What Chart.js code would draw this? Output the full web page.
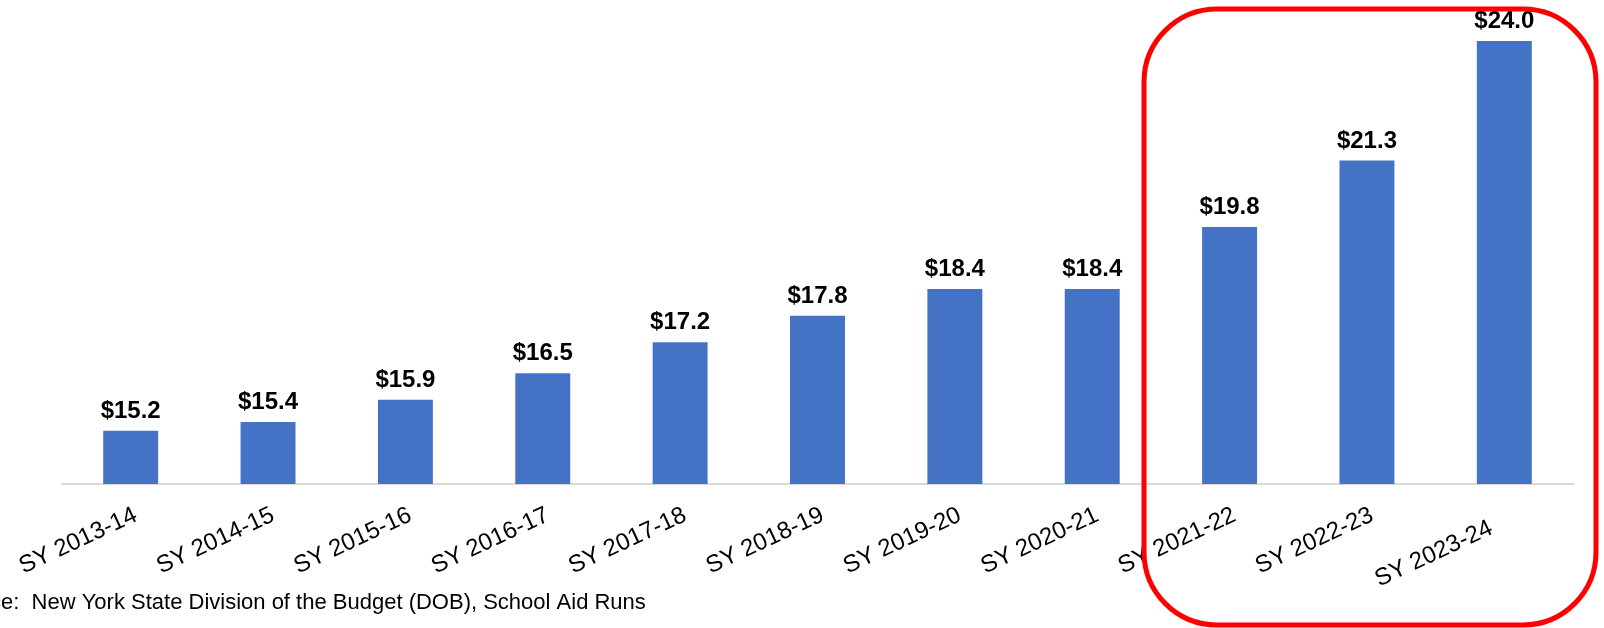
<!DOCTYPE html>
<html>
<head>
<meta charset="utf-8">
<script src="https://cdn.jsdelivr.net/npm/chart.js@4/dist/chart.umd.min.js"></script>
<style>
  html, body { margin: 0; padding: 0; background: #ffffff; }
  #wrap { width: 1604px; height: 628px; position: relative; }
</style>
</head>
<body>
<div id="wrap"><canvas id="c" width="1604" height="628"></canvas></div>
<script>
const categories = ['SY 2013-14', 'SY 2014-15', 'SY 2015-16', 'SY 2016-17', 'SY 2017-18', 'SY 2018-19', 'SY 2019-20', 'SY 2020-21', 'SY 2021-22', 'SY 2022-23', 'SY 2023-24'];
const aidValues = [15.2, 15.4, 15.9, 16.5, 17.2, 17.8, 18.4, 18.4, 19.8, 21.3, 24.0];
const valueLabels = ['$15.2', '$15.4', '$15.9', '$16.5', '$17.2', '$17.8', '$18.4', '$18.4', '$19.8', '$21.3', '$24.0'];
const sourceText = 'Source:  New York State Division of the Budget (DOB), School Aid Runs';

const FONT = "'Liberation Sans', Arial, sans-serif";

const valueLabelPlugin = {
  id: 'valueLabels',
  afterDatasetsDraw(chart) {
    const ctx = chart.ctx;
    const meta = chart.getDatasetMeta(0);
    ctx.save();
    ctx.font = "bold 24px " + FONT;
    ctx.fillStyle = '#000000';
    ctx.textAlign = 'center';
    ctx.textBaseline = 'alphabetic';
    meta.data.forEach((bar, i) => {
      ctx.fillText(valueLabels[i], bar.x, bar.y - 13);
    });
    ctx.restore();
  }
};

// the last category label sits a little lower-left in the original
const lastLabelShift = {
  id: 'lastLabelShift',
  beforeDraw(chart) {
    const scale = chart.scales.x;
    const items = scale.getLabelItems();
    const last = items[items.length - 1];
    if (last && !last._shifted) {
      last.options.translation = [last.options.translation[0] - 18, last.options.translation[1] + 13];
      last._shifted = true;
    }
  }
};

const decorPlugin = {
  id: 'decor',
  afterDraw(chart) {
    const ctx = chart.ctx;
    ctx.save();
    // source note (left part cut off as in the original)
    ctx.font = "22px " + FONT;
    ctx.fillStyle = '#000000';
    ctx.textBaseline = 'alphabetic';
    ctx.textAlign = 'left';
    const cut = ctx.measureText('Sourc').width;
    ctx.fillText(sourceText, -cut + 1, 609);
    // red highlight rounded rectangle
    ctx.strokeStyle = '#ff0000';
    ctx.lineWidth = 5;
    ctx.beginPath();
    ctx.roundRect(1144, 9, 452, 616, 73);
    ctx.stroke();
    ctx.restore();
  }
};

new Chart(document.getElementById('c'), {
  type: 'bar',
  data: {
    labels: categories,
    datasets: [{
      data: aidValues,
      backgroundColor: '#4472C4',
      borderWidth: 0,
      barPercentage: 0.4,
      categoryPercentage: 1.0
    }]
  },
  options: {
    responsive: false,
    animation: false,
    devicePixelRatio: 1,
    layout: { padding: { top: 41, left: 62, right: 31, bottom: 0 } },
    plugins: { legend: { display: false }, tooltip: { enabled: false } },
    scales: {
      x: {
        grid: { display: false, drawTicks: false },
        border: { display: true, color: '#d9d9d9', width: 2 },
        ticks: {
          color: '#000000',
          font: { family: FONT, size: 24 },
          minRotation: 25,
          maxRotation: 25,
          padding: 17,
          labelOffset: 5,
          autoSkip: false
        },
        afterFit(scale) {
          scale.height = 628 - 484;
          scale.paddingLeft = 0;
          scale.paddingRight = 0;
        }
      },
      y: {
        display: false,
        min: 14,
        max: 24
      }
    }
  },
  plugins: [valueLabelPlugin, lastLabelShift, decorPlugin]
});
</script>
</body>
</html>
